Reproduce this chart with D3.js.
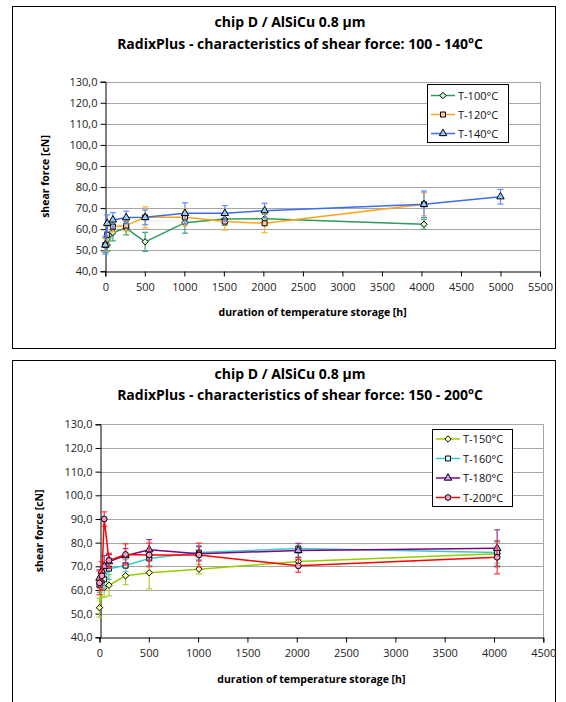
<!DOCTYPE html>
<html>
<head>
<meta charset="utf-8">
<script src="https://cdn.jsdelivr.net/npm/d3@7"></script>
<style>
  body { margin: 0; background: #fff; }
  text { font-family: "Open Sans", "Noto Sans", sans-serif; }
</style>
</head>
<body>
<svg id="viz" width="566" height="702"></svg>
<script>
// ---- data ----
var hoursLow = [0, 24, 96, 264, 504, 1008, 1512, 2016, 4032];
var hoursLow140 = [0, 24, 96, 264, 504, 1008, 1512, 2016, 4032, 5000];
var t100 = [52.5, 52.5, 58.4, 60.5, 54.0, 63.1, 64.8, 65.0, 62.3];
var t100Err = [3.5, 3.0, 4.0, 3.2, 4.5, 5.0, 3.0, 2.0, 2.4];
var t120 = [52.5, 57.3, 61.2, 61.7, 65.6, 65.6, 63.6, 62.8, 71.8];
var t120Err = [3.0, 4.0, 2.5, 2.5, 5.0, 4.0, 4.0, 4.5, 5.5];
var t140 = [52.5, 62.8, 64.4, 65.5, 65.6, 67.5, 67.5, 68.8, 71.8, 75.4];
var t140Err = [4.3, 4.0, 3.5, 3.0, 3.5, 5.0, 3.7, 3.5, 6.3, 3.5];

var hoursHigh = [0, 24, 48, 96, 264, 504, 1008, 2016, 4032];
var t150 = [52.5, 61.0, 61.0, 62.0, 66.0, 67.3, 68.8, 72.0, 75.3];
var t150Err = [4.0, 4.0, 4.0, 4.5, 3.8, 6.8, 2.0, 2.0, 5.0];
var t160 = [62.0, 64.0, 64.5, 69.0, 70.3, 73.3, 75.8, 77.5, 75.8];
var t160Err = [3.0, 3.5, 3.5, 4.5, 2.5, 3.0, 3.0, 2.0, 4.5];
var t180 = [65.0, 68.0, 70.0, 72.0, 74.5, 77.0, 75.3, 76.7, 77.6];
var t180Err = [3.5, 4.0, 4.5, 3.0, 3.0, 4.3, 3.0, 3.0, 7.8];
var t200 = [63.0, 66.0, 90.0, 72.5, 75.0, 74.8, 74.8, 70.2, 73.8];
var t200Err = [5.0, 6.0, 3.0, 3.0, 4.5, 5.0, 5.0, 2.7, 7.0];

var yTicks = [40, 50, 60, 70, 80, 90, 100, 110, 120, 130];
var xTicksLow = [0, 500, 1000, 1500, 2000, 2500, 3000, 3500, 4000, 4500, 5000, 5500];
var xTicksHigh = [0, 500, 1000, 1500, 2000, 2500, 3000, 3500, 4000, 4500];

var svg = d3.select("#viz");
var fmt = function (v) { return d3.format(".1f")(v).replace(".", ","); };

var symbols = {
  diamond: d3.symbol().type(d3.symbolDiamond2 || d3.symbolDiamond).size(d3.symbolDiamond2 ? 26 : 20),
  square: d3.symbol().type(d3.symbolSquare).size(25),
  triangle: d3.symbol().type(d3.symbolTriangle).size(24),
  circle: d3.symbol().type(d3.symbolCircle).size(26)
};

function drawChart(c) {
  var g = svg.append("g");

  // outer frame
  g.append("rect")
    .attr("x", c.box[0] + 0.5).attr("y", c.box[1] + 0.5)
    .attr("width", c.box[2]).attr("height", c.box[3])
    .attr("fill", "none").attr("stroke", "#000").attr("stroke-width", 1);

  g.append("text").attr("x", c.titleX[0]).attr("y", c.titleY[0])
    .attr("text-anchor", "middle").attr("font-size", 14).attr("font-weight", "bold")
    .text(c.title1);
  g.append("text").attr("x", c.titleX[1]).attr("y", c.titleY[1])
    .attr("text-anchor", "middle").attr("font-size", 14).attr("font-weight", "bold")
    .text(c.title2);

  var x = d3.scaleLinear().domain(c.xDomain).range([c.left, c.right]);
  var y = d3.scaleLinear().domain([40, 130]).range([c.bottom, c.top]);

  // grid
  g.append("g").selectAll("line").data(yTicks.slice(1)).enter().append("line")
    .attr("x1", c.left).attr("x2", c.right)
    .attr("y1", function (d) { return Math.round(y(d)) + 0.5; })
    .attr("y2", function (d) { return Math.round(y(d)) + 0.5; })
    .attr("stroke", "#a6a6a6").attr("stroke-width", 1);
  g.append("line")
    .attr("x1", Math.round(c.right) + 0.5).attr("x2", Math.round(c.right) + 0.5)
    .attr("y1", c.top).attr("y2", c.bottom)
    .attr("stroke", "#a6a6a6");

  // axes
  var yAxis = d3.axisLeft(y).tickValues(yTicks).tickFormat(fmt).tickSizeOuter(0).tickSize(5).tickPadding(3);
  var ya = g.append("g").attr("transform", "translate(" + (Math.round(c.left) + 0.5) + ",0)").call(yAxis);
  var xAxis = d3.axisBottom(x).tickValues(c.xTicks).tickFormat(d3.format("d")).tickSizeOuter(0).tickSize(5).tickPadding(7);
  var xa = g.append("g").attr("transform", "translate(0," + (Math.round(c.bottom) + 0.5) + ")").call(xAxis);
  [ya, xa].forEach(function (a) {
    a.select(".domain").attr("stroke", "#000");
    a.selectAll(".tick line").attr("stroke", "#000");
    a.selectAll(".tick text").attr("font-size", 11).attr("fill", "#222")
      .style("font-family", "'Open Sans', sans-serif");
  });

  g.append("text")
    .attr("transform", "translate(" + c.yTitleX + "," + ((c.top + c.bottom) / 2) + ") rotate(-90)")
    .attr("text-anchor", "middle").attr("font-size", 10.5).attr("font-weight", "bold")
    .text("shear force [cN]");
  g.append("text")
    .attr("x", (c.left + c.right) / 2 - 10).attr("y", c.xTitleY)
    .attr("text-anchor", "middle").attr("font-size", 10.5).attr("font-weight", "bold")
    .text("duration of temperature storage [h]");

  // series
  c.series.forEach(function (s) {
    var pts = s.hours.map(function (h, i) { return { h: h, v: s.values[i], e: s.err[i] }; });
    var sg = g.append("g");
    var eb = sg.append("g").attr("stroke", s.barColor).attr("stroke-width", 1.2);
    pts.forEach(function (p) {
      var px = x(p.h);
      eb.append("line").attr("x1", px).attr("x2", px).attr("y1", y(p.v - p.e)).attr("y2", y(p.v + p.e));
      eb.append("line").attr("x1", px - 3).attr("x2", px + 3).attr("y1", y(p.v - p.e)).attr("y2", y(p.v - p.e));
      eb.append("line").attr("x1", px - 3).attr("x2", px + 3).attr("y1", y(p.v + p.e)).attr("y2", y(p.v + p.e));
    });
    sg.append("path").datum(pts)
      .attr("d", d3.line().x(function (d) { return x(d.h); }).y(function (d) { return y(d.v); }))
      .attr("fill", "none").attr("stroke", s.color).attr("stroke-width", 1.5);
    sg.selectAll(".m").data(pts).enter().append("path")
      .attr("transform", function (d) { return "translate(" + x(d.h) + "," + y(d.v) + ")"; })
      .attr("d", symbols[s.marker])
      .attr("fill", s.fill).attr("stroke", "#000").attr("stroke-width", 1);
  });

  // legend
  var L = c.legend;
  g.append("rect")
    .attr("x", L.x + 0.5).attr("y", L.y + 0.5).attr("width", L.w).attr("height", L.h)
    .attr("fill", "#fff").attr("stroke", "#000");
  c.series.forEach(function (s, i) {
    var ly = L.y + L.first + i * L.step;
    g.append("line").attr("x1", L.x + 4).attr("x2", L.x + 28).attr("y1", ly).attr("y2", ly)
      .attr("stroke", s.color).attr("stroke-width", 1.5);
    g.append("path").attr("transform", "translate(" + (L.x + 16) + "," + ly + ")")
      .attr("d", symbols[s.marker]).attr("fill", s.fill).attr("stroke", "#000");
    g.append("text").attr("x", L.x + 31).attr("y", ly + 4).attr("font-size", 11).attr("fill", "#111")
      .text(s.name);
  });
}

drawChart({
  box: [12, 6, 543, 342],
  title1: "chip D / AlSiCu 0.8 µm",
  title2: "RadixPlus - characteristics of shear force: 100 - 140°C",
  titleX: [290, 300], titleY: [27, 49],
  left: 105.3, right: 540, top: 81.7, bottom: 271.3,
  xDomain: [0, 5500], xTicks: xTicksLow,
  yTitleX: 49, xTitleY: 316,
  legend: { x: 427, y: 84, w: 81, h: 58, first: 11.5, step: 19 },
  series: [
    { name: "T-100°C", hours: hoursLow, values: t100, err: t100Err, color: "#2e9a5c", barColor: "#3fa86a", fill: "#ccffcc", marker: "diamond" },
    { name: "T-120°C", hours: hoursLow, values: t120, err: t120Err, color: "#ffa31a", barColor: "#ffae33", fill: "#ffcc99", marker: "square" },
    { name: "T-140°C", hours: hoursLow140, values: t140, err: t140Err, color: "#3a6cf0", barColor: "#5c8cff", fill: "#99ccff", marker: "triangle" }
  ]
});

drawChart({
  box: [12, 360, 543, 350],
  title1: "chip D / AlSiCu 0.8 µm",
  title2: "RadixPlus - characteristics of shear force: 150 - 200°C",
  titleX: [290, 300], titleY: [379, 400],
  left: 99.5, right: 543.3, top: 424.3, bottom: 637.3,
  xDomain: [0, 4500], xTicks: xTicksHigh,
  yTitleX: 43, xTitleY: 683,
  legend: { x: 432, y: 429, w: 80, h: 77, first: 10, step: 19.5 },
  series: [
    { name: "T-150°C", hours: hoursHigh, values: t150, err: t150Err, color: "#99cc00", barColor: "#aad12a", fill: "#ffff99", marker: "diamond" },
    { name: "T-160°C", hours: hoursHigh, values: t160, err: t160Err, color: "#33cccc", barColor: "#4fd3d3", fill: "#ccffff", marker: "square" },
    { name: "T-180°C", hours: hoursHigh, values: t180, err: t180Err, color: "#800080", barColor: "#993399", fill: "#cc99ff", marker: "triangle" },
    { name: "T-200°C", hours: hoursHigh, values: t200, err: t200Err, color: "#ff0000", barColor: "#ff3333", fill: "#ff99cc", marker: "circle" }
  ]
});
</script>
</body>
</html>
